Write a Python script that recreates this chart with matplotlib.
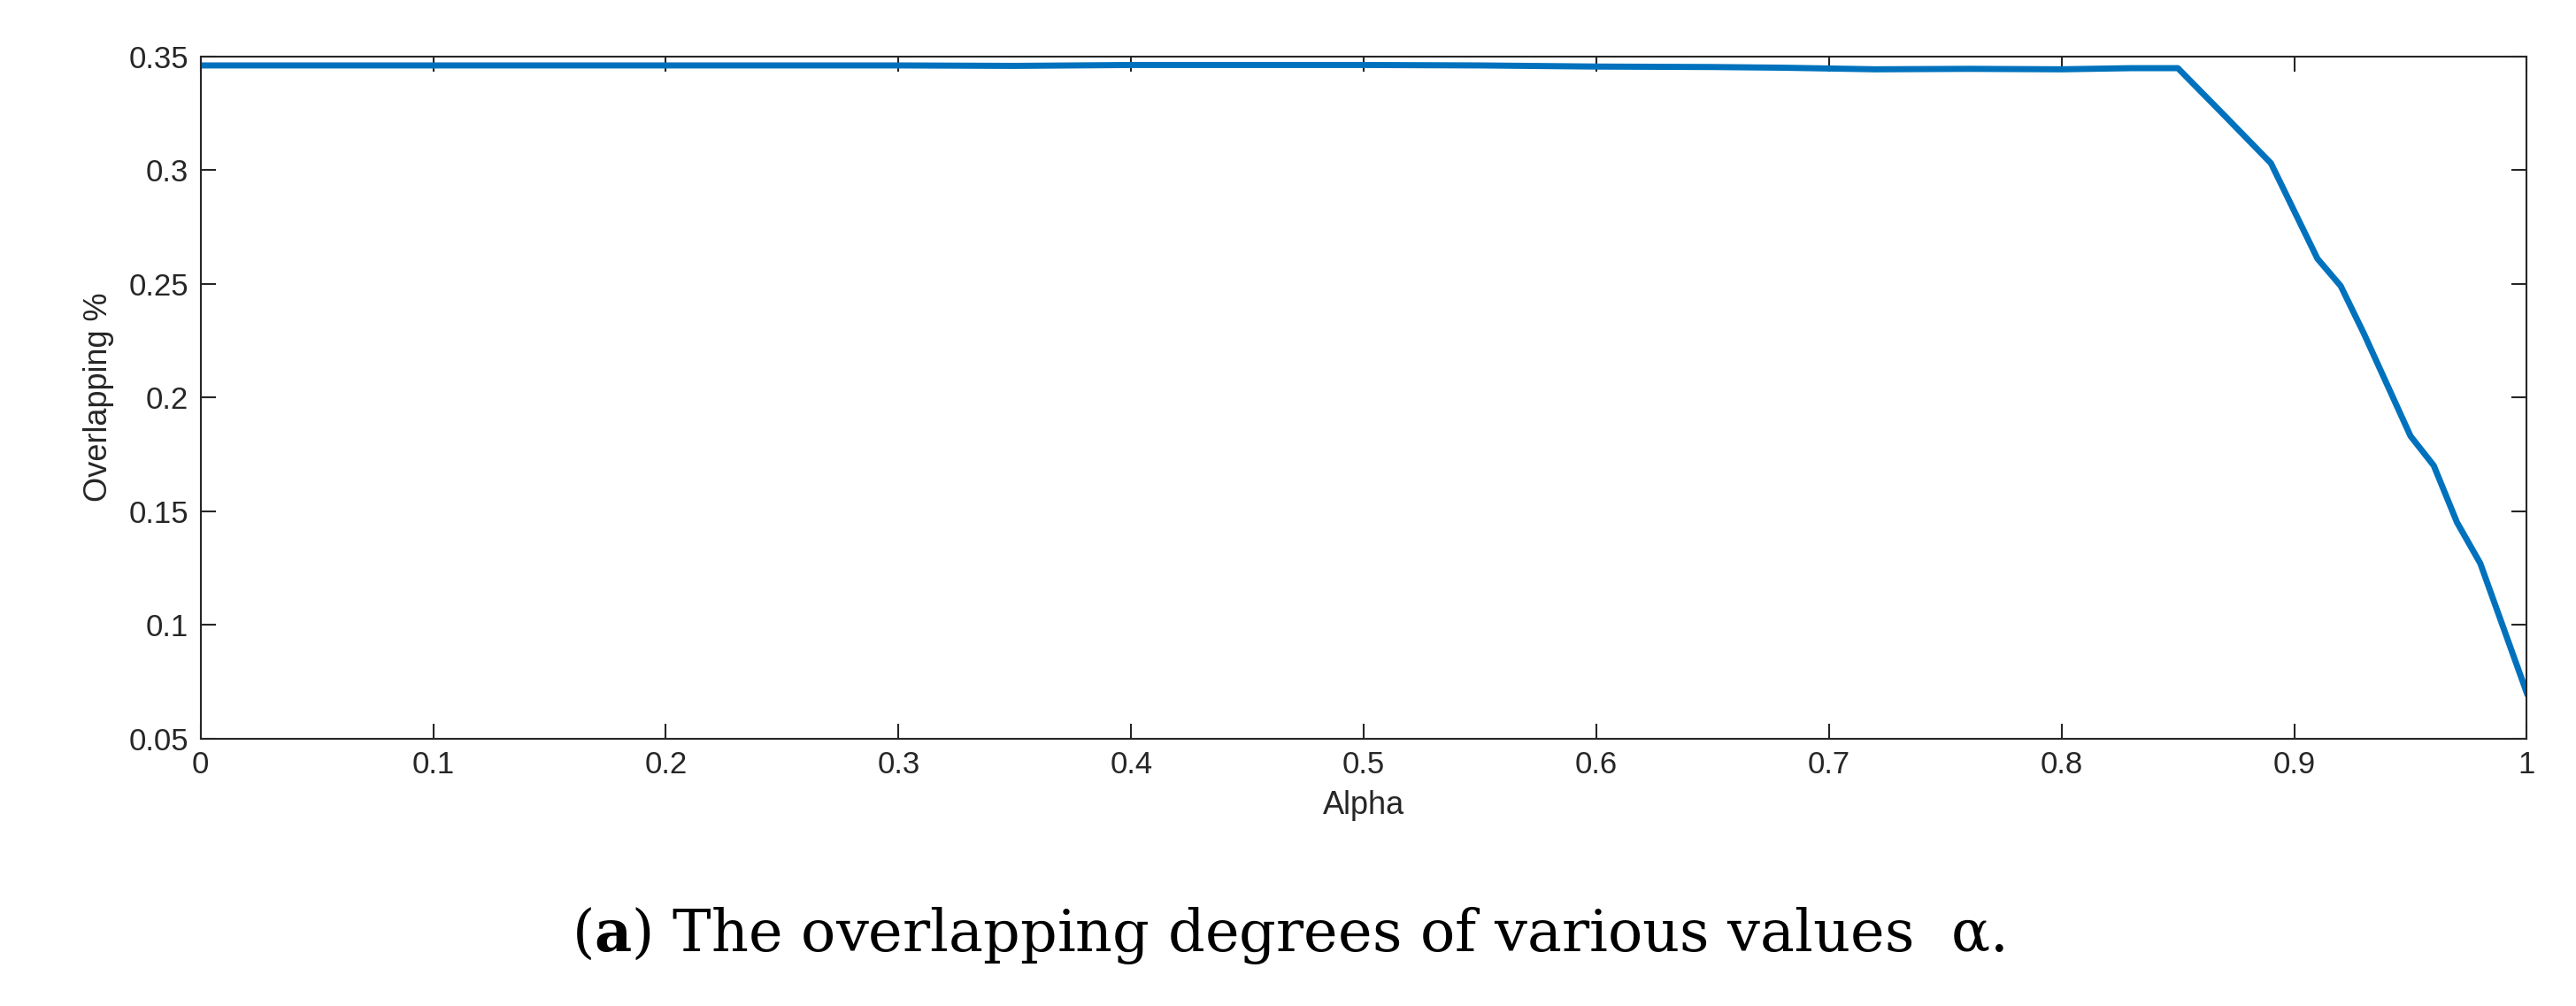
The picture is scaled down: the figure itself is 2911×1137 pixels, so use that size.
import matplotlib
matplotlib.use("Agg")
import matplotlib.pyplot as plt

plt.rcParams['mathtext.fontset'] = 'dejavuserif'

alpha = [0.0, 0.05, 0.1, 0.2, 0.3, 0.35, 0.4, 0.45, 0.5, 0.55, 0.6, 0.65, 0.68, 0.72, 0.76, 0.8, 0.83, 0.85,
         0.87, 0.89, 0.91, 0.92, 0.93, 0.95, 0.96, 0.97, 0.98, 1.0]
overlap = [0.346, 0.346, 0.346, 0.346, 0.346, 0.3458, 0.3462, 0.3462, 0.3462, 0.346, 0.3455, 0.3453, 0.345, 0.3443, 0.3445, 0.3443, 0.3448, 0.3448,
           0.324, 0.303, 0.261, 0.249, 0.228, 0.183, 0.170, 0.145, 0.127, 0.070]
xticks = [0, 0.1, 0.2, 0.3, 0.4, 0.5, 0.6, 0.7, 0.8, 0.9, 1]
yticks = [0.05, 0.1, 0.15, 0.2, 0.25, 0.3, 0.35]

fig = plt.figure(figsize=(29.11, 11.37), dpi=100)
ax = fig.add_axes([0.0779, 0.266, 0.903, 0.678])
ax.plot(alpha, overlap, color="#0072BD", lw=5)
ax.set_xlim(0, 1)
ax.set_ylim(0.05, 0.35)
ax.set_xticks(xticks)
ax.set_xticklabels([f"{t:g}" for t in xticks])
ax.set_yticks(yticks)
ax.set_yticklabels([f"{t:g}" for t in yticks])
ax.tick_params(direction="in", length=12, width=1.5, colors="#262626", labelsize=25,
               top=True, right=True, pad=10)
for lab in ax.get_xticklabels() + ax.get_yticklabels():
    lab.set_family("Liberation Sans")
for s in ax.spines.values():
    s.set_color("#262626"); s.set_linewidth(1.5)
ax.set_xlabel("Alpha", fontsize=26, color="#262626", labelpad=8, family="Liberation Sans")
ax.set_ylabel("Overlapping %", fontsize=26, color="#262626", labelpad=12, family="Liberation Sans")
fig.text(0.5, 0.07, r"($\mathbf{a}$) The overlapping degrees of various values  α.",
         ha="center", va="center", fontsize=47, family="DejaVu Serif")
fig.savefig("out.png", dpi=100)
